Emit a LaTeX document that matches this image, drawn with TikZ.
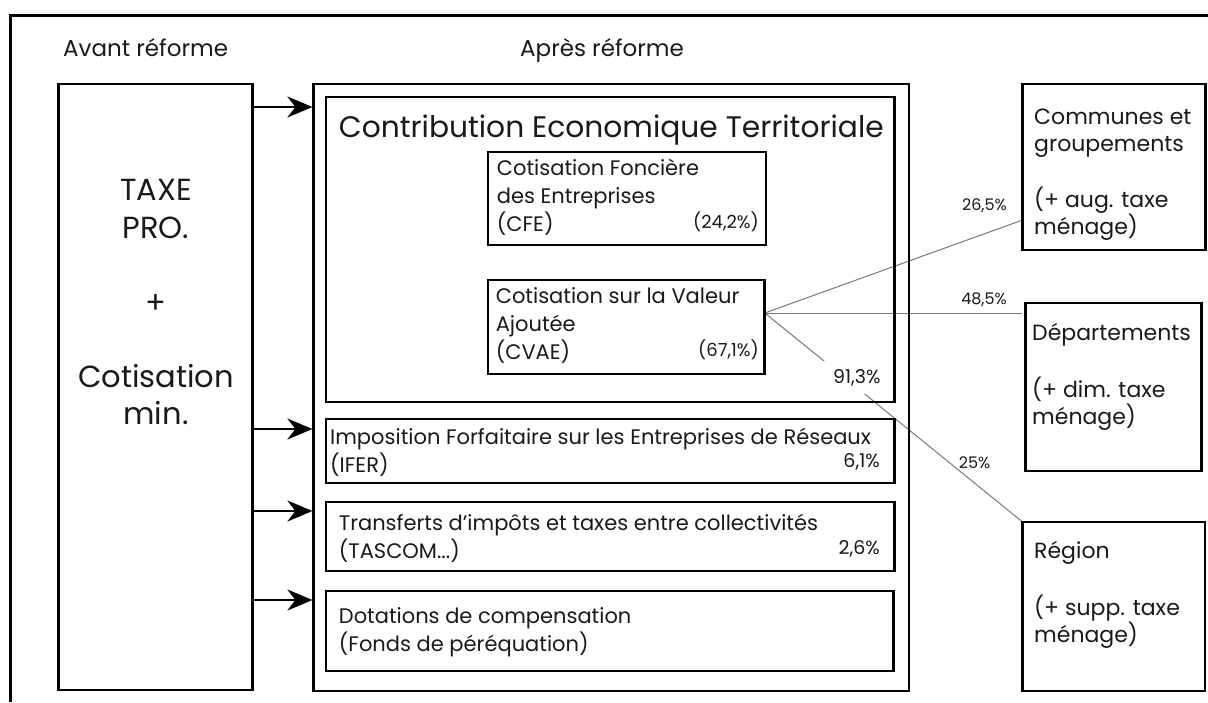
\documentclass[tikz,border=0pt]{standalone}
\usepackage{fontspec}
\setmainfont{Poppins}
\usetikzlibrary{arrows.meta,fit,calc}
\definecolor{txt}{HTML}{1A1A1A}
\definecolor{conn}{HTML}{7A7A7A}
\newcommand\mytext[5][base west]{\node[lbl,anchor=#1] (#2) at (#3,#4) {#5};}
\begin{document}
\begin{tikzpicture}[x=1pt,y=-1pt,
  box/.style={draw=black, line width=2.8pt, inner sep=0pt},
  lbl/.style={inner sep=0pt, text=txt, font=\fontsize{21}{25}\selectfont},
  arr/.style={line width=2.6pt, -{Stealth[length=25pt,width=21pt,inset=8pt]}},
  link/.style={draw=conn, line width=1pt}]
\useasboundingbox (0,0) rectangle (1208,702);
\fill[white] (0,0) rectangle (1208,702);
% outer frame (partly cropped)
\draw[line width=3pt] (10,702) -- (10,15) -- (1208,15);

% box geometry (named, drawn later)
\coordinate (cvaeNE) at (764.8,280);
\coordinate (commSW) at (1022.6,250);
\coordinate (depNW) at (1025.4,303);
\coordinate (regNW) at (1022.6,522);

% connectors from CVAE
\coordinate (src) at ($(cvaeNE)+(0,33)$);
\coordinate (inComm) at ($(commSW)+(0,-30)$);
\coordinate (inDep) at ($(depNW)+(-3,10)$);
\draw[link] (src) -- (inComm);
\draw[link] (src) -- (inDep);
\draw[link] (src) -- (regNW);
\node[inner xsep=10pt, inner ysep=8pt, fill=white, anchor=base east, text=txt, font=\fontsize{19}{23}\selectfont] (l913) at (890.8,383) {91,3\%};

% boxes
\node[box, fit={(58.6,84) (252.6,690)}] (avant) {};
\node[box, fit={(313.8,84) (909,691)}] (apres) {};
\node[box, fit={(326,97) (894.7,402)}] (cet) {};
\node[box, fit={(488,152) (766,245)}] (cfe) {};
\node[box, fit={(488,280) (cvaeNE) (764.8,374)}] (cvae) {};
\node[box, fit={(326,419) (894.7,483)}] (ifer) {};
\node[box, fit={(326,502) (894.7,571)}] (trans) {};
\node[box, fit={(326,591) (893.5,671)}] (dot) {};
\node[box, fit={(1022.6,84) (commSW) (1205.7,250)}] (comm) {};
\node[box, fit={(depNW) (1201.8,471)}] (dep) {};
\node[box, fit={(regNW) (1204.9,691)}] (reg) {};

% arrows
\foreach \yy/\nm in {107/a1,429/a2,511/a3,600/a4}{
  \coordinate (s\nm) at (avant.east |- 0,\yy);
  \coordinate (e\nm) at (apres.west |- 0,\yy);
  \draw[arr] (s\nm) -- (e\nm);
}

% headings
\mytext{hAvant}{63}{56}{\fontsize{23}{27}\selectfont Avant réforme}
\mytext{hApres}{520}{56}{\fontsize{23}{27}\selectfont Après réforme}

% left box
\mytext[base]{tx1}{156}{200}{\fontsize{30.5}{35}\selectfont TAXE}
\mytext[base]{tx2}{156}{238}{\fontsize{30.5}{35}\selectfont PRO.}
\mytext[base]{tx3}{156}{313}{\fontsize{30.5}{35}\selectfont +}
\mytext[base]{tx4}{156}{387}{\fontsize{30.5}{35}\selectfont Cotisation}
\mytext[base]{tx5}{156}{424}{\fontsize{30.5}{35}\selectfont min.}

% CET
\mytext{cetT}{338.7}{137}{\fontsize{29.7}{35}\selectfont Contribution Economique Territoriale}
\mytext{cfe1}{496.7}{175}{Cotisation Foncière}
\mytext{cfe2}{496.7}{203}{des Entreprises}
\mytext{cfe3}{496.7}{231}{(CFE)}
\mytext[base east]{cfeP}{759}{228}{\fontsize{18}{22}\selectfont (24,2\%)}
\mytext{cva1}{495.6}{303}{Cotisation sur la Valeur}
\mytext{cva2}{495.6}{331}{Ajoutée}
\mytext{cva3}{495.6}{359}{(CVAE)}
\mytext[base east]{cvaP}{759}{356}{\fontsize{18}{22}\selectfont (67,1\%)}

% other boxes
\mytext{if1}{330}{444}{Imposition Forfaitaire sur les Entreprises de Réseaux}
\mytext{if2}{330}{472}{(IFER)}
\mytext[base east]{ifP}{880}{467}{\fontsize{19}{23}\selectfont 6,1\%}
\mytext{tr1}{338.7}{530}{Transferts d’impôts et taxes entre collectivités}
\mytext{tr2}{338.7}{558}{(TASCOM...)}
\mytext[base east]{trP}{880}{554}{\fontsize{19}{23}\selectfont 2,6\%}
\mytext{do1}{338.7}{623}{Dotations de compensation}
\mytext{do2}{338.7}{651}{(Fonds de péréquation)}

% right boxes
\mytext{co1}{1034}{124}{\fontsize{22}{26}\selectfont Communes et}
\mytext{co2}{1034}{151}{\fontsize{22}{26}\selectfont groupements}
\mytext{co3}{1034}{207}{\fontsize{22}{26}\selectfont (+ aug. taxe}
\mytext{co4}{1034}{234}{\fontsize{22}{26}\selectfont ménage)}
\mytext{de1}{1032}{340}{\fontsize{22}{26}\selectfont Départements}
\mytext{de2}{1032}{397}{\fontsize{22}{26}\selectfont (+ dim. taxe}
\mytext{de3}{1032}{424}{\fontsize{22}{26}\selectfont ménage)}
\mytext{re1}{1034}{558}{\fontsize{22}{26}\selectfont Région}
\mytext{re2}{1034}{615}{\fontsize{22}{26}\selectfont (+ supp. taxe}
\mytext{re3}{1034}{642}{\fontsize{22}{26}\selectfont ménage)}

% connector labels
\mytext[base east]{l265}{1007}{210}{\fontsize{16}{20}\selectfont 26,5\%}
\mytext[base east]{l485}{1007}{304}{\fontsize{16}{20}\selectfont 48,5\%}
\mytext{l25}{958.7}{468}{\fontsize{16}{20}\selectfont 25\%}
\end{tikzpicture}
\end{document}
